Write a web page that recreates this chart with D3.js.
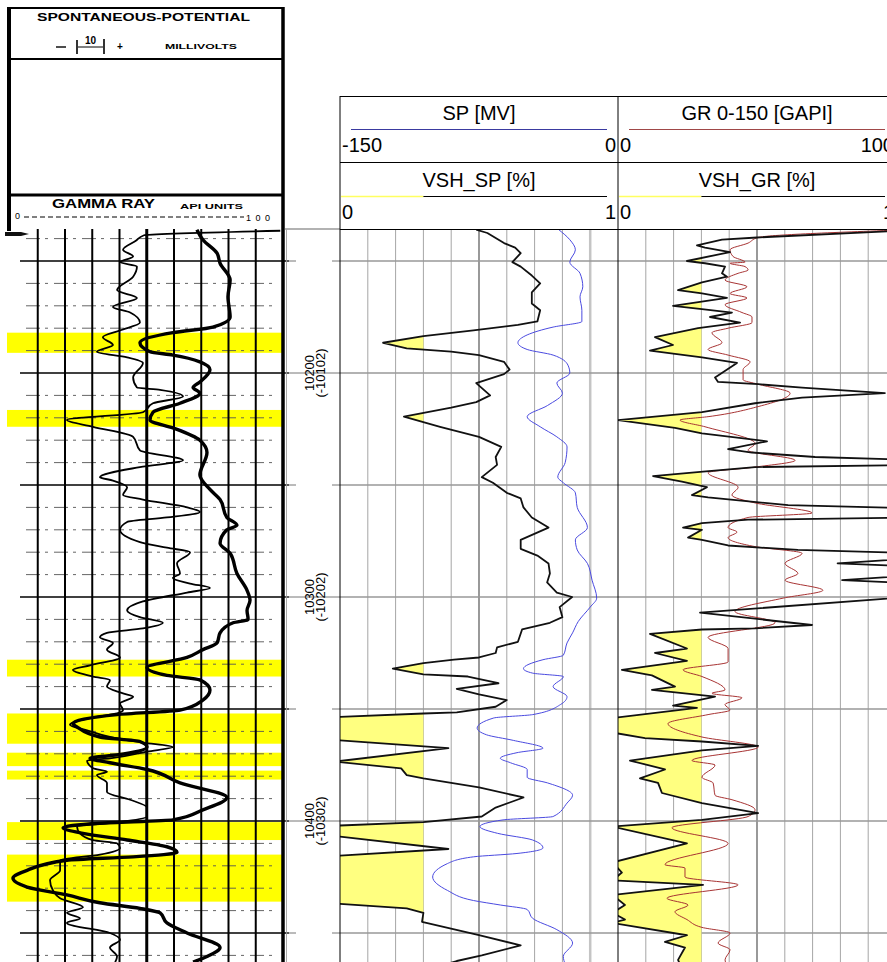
<!DOCTYPE html>
<html>
<head>
<meta charset="utf-8">
<script src="https://cdn.jsdelivr.net/npm/d3@7"></script>
<style>
  body { margin: 0; background: #fff; }
  svg { display: block; font-family: "Liberation Sans", Arial, sans-serif; }
</style>
</head>
<body>
<div id="log"></div>
<script>
// depth ticks (MD, ft) and the subsea labels printed under them
const depthLabels = [10200, 10300, 10400];
const tvdLabels = ["(-10102)", "(-10202)", "(-10302)"];
const gridDepths = [10150, 10200, 10250, 10300, 10350, 10400, 10450];

// scanned log: sand intervals shaded yellow [top, base] ft
const scanSands = [[10182, 10191], [10216.5, 10224], [10328, 10335.5], [10352, 10365.5],
  [10369.5, 10375.5], [10377.5, 10381.5], [10400.5, 10408.5], [10415, 10436]];

// scanned log curves [depth, value on the 0-100 grid]
const scanGR = [[10136,68.4],[10140.5,70.6],[10146.5,75.8],[10151,76.9],[10158.5,80.6],[10166,79.8],[10175,80.6],
  [10179.5,74.3],[10182,59.6],[10186.5,47.5],[10190.5,51.2],[10192,59.6],[10195,69.5],[10198.5,73.2],[10204,69.5],
  [10206.5,67],[10209,69.5],[10213.5,62.2],[10217.5,52.3],[10221,51.2],[10224.5,59.6],[10230,69.5],[10235.5,72.1],
  [10245.5,69.5],[10252,73.2],[10256.5,76.9],[10264.5,79.4],[10268,83.1],[10270,79.4],[10276,76.9],[10280.5,80.6],
  [10289.5,83.1],[10297,86.8],[10301.5,87.9],[10306,86.8],[10310,87.2],[10311.5,81.7],[10316,76.9],[10320.5,75.8],
  [10323.5,70.6],[10327,64.8],[10331.5,50.1],[10335,57.4],[10337,69.5],[10341.5,73.2],[10346,70.6],[10350.5,62.2],
  [10352.5,39.1],[10356.5,22.9],[10358,24.4],[10362.5,32.8],[10364.5,47.5],[10367,50.1],[10370.5,39.1],[10372,29.2],
  [10374,36.5],[10377,50.1],[10383,62.2],[10389.5,79.4],[10395,70.6],[10399.5,59.6],[10401,32.8],[10403,19.3],
  [10405.5,26.6],[10408.5,42.8],[10411.5,57.4],[10414,61.1],[10416,45],[10417.5,20.7],[10422,6.1],[10425.5,0.9],
  [10429.5,6.1],[10433,20.7],[10436.5,32.8],[10439,47.5],[10441,54.9],[10445.5,57.4],[10450,64.8],[10456.5,76.9],
  [10460.5,72.1],[10463,67]];
const scanSP = [[10136.5,99],[10138.5,49],[10141,46],[10145,41.3],[10148,45],[10150.5,40.2],[10152.5,46.4],[10157,45],
  [10163,39.1],[10166.5,46.4],[10170.5,37.6],[10173,43.9],[10177.5,47.5],[10181,40.2],[10184,33.9],[10187.5,37.6],
  [10190.5,31.7],[10193,42.8],[10195.5,48.6],[10202,45],[10206.5,46.4],[10207.5,54.9],[10210.5,63.3],[10213.5,52.3],
  [10217.5,48.6],[10221,20.7],[10224,30.3],[10228.5,45],[10234.5,47.5],[10239,63.3],[10242,47.5],[10246.5,32.8],
  [10248,37.6],[10251,42.8],[10254.5,41.3],[10256.5,48.6],[10260,64.8],[10262,69.5],[10264.5,57.4],[10266.5,42.8],
  [10270,40.2],[10275.5,47.5],[10278,57.4],[10280,65.9],[10285,61.1],[10289.5,62.2],[10291.5,59.6],[10294,65.9],
  [10296,73.2],[10298,64.8],[10302,48.6],[10306,42.8],[10309,47.5],[10311.5,55.9],[10314,48.6],[10316,35.4],
  [10318,32.8],[10320.5,37.6],[10323.5,35.4],[10327,40.2],[10330.5,29.2],[10332.5,22.9],[10335.5,30.3],[10337,36.5],
  [10340,35.4],[10343,41.3],[10344.5,45],[10347.5,40.2],[10350.5,41.3],[10352,39.1],[10353.5,31.7],[10357,21.8],
  [10359.5,28.1],[10362.5,36.5],[10365,48.6],[10367,59.6],[10369,50.1],[10372,36.5],[10373,28.1],[10376.5,30.3],
  [10378,35.4],[10379.5,31.7],[10383,35.4],[10387,35.4],[10390.5,43.9],[10394,50.1],[10398,50.1],[10400.5,40.2],
  [10402.5,24.4],[10405.5,25.5],[10408.5,30.3],[10410,39.1],[10412,40.2],[10415,32.8],[10417.5,18.2],[10422,18.2],
  [10426.5,14.5],[10431,15.6],[10434.5,18.2],[10438.5,26.6],[10441,20.7],[10443.5,25.5],[10445.5,20.7],[10450,36.5],
  [10453,40.2],[10456.5,36.5],[10460.5,39.1],[10463,38.4]];

// digital curves [depth, value]
const spMV = [[10136,-32],[10140.5,-26],[10145,-23],[10150.5,-26],[10155.5,-20.5],[10161.5,-19],[10166,-20.5],
  [10172,-19.5],[10177,-19.5],[10179.5,-35],[10183,-49],[10186.5,-54],[10189.5,-49],[10192,-35],[10196.5,-27],
  [10200,-26],[10204.5,-33],[10209,-30],[10214.5,-38],[10219.5,-49],[10224,-42],[10228.5,-33],[10233,-27.5],
  [10240,-28.5],[10246.5,-32.5],[10249,-29.5],[10253.5,-23],[10260,-22],[10269,-16.5],[10274.5,-23],[10279,-22],
  [10285,-16.5],[10292.5,-14],[10300.5,-11.5],[10304.5,-15],[10311,-21.5],[10316,-24.5],[10320.5,-27.5],[10326,-29.5],
  [10328,-40.5],[10332,-51],[10334,-46],[10335.5,-29.5],[10340,-35],[10344.5,-27.5],[10348,-31],[10352.5,-46],
  [10354,-67],[10358.5,-76],[10361.5,-71],[10364,-56.5],[10367.5,-40.5],[10369.5,-54.5],[10372,-63.5],[10374,-58],
  [10377,-49],[10380.5,-49],[10383,-38],[10388.5,-24.5],[10392,-27.5],[10398,-35],[10399.5,-62],[10402.5,-74.5],
  [10405.5,-65],[10408.5,-46],[10412,-40.5],[10414.5,-54.5],[10416,-78],[10419,-92],[10425,-100],[10431,-92],
  [10435.5,-78],[10437.5,-63.5],[10439.5,-49],[10443.5,-46],[10448.5,-33],[10454.5,-24.5],[10460.5,-29.5],[10464,-28.5]];
const vshSP = [[10136,0.49],[10137.5,0.53],[10142,0.59],[10144,0.63],[10146.5,0.65],[10150.5,0.62],[10152.5,0.65],
  [10156.5,0.69],[10160,0.72],[10164,0.69],[10169,0.69],[10172,0.72],[10177,0.71],[10178.5,0.64],[10181,0.48],
  [10183.5,0.30],[10186.5,0.155],[10189,0.24],[10190.5,0.40],[10192,0.50],[10195,0.59],[10198.5,0.61],[10200.5,0.59],
  [10204.5,0.49],[10210,0.54],[10213,0.49],[10215.5,0.40],[10219.5,0.23],[10224,0.36],[10228.5,0.50],[10233,0.58],
  [10237.5,0.56],[10241,0.565],[10246.5,0.51],[10249,0.55],[10253.5,0.60],[10256,0.65],[10260,0.66],[10264.5,0.69],
  [10269,0.75],[10274.5,0.65],[10278.5,0.65],[10281.5,0.71],[10285,0.75],[10289.5,0.755],[10293.5,0.745],[10298,0.78],
  [10300,0.835],[10304.5,0.79],[10309,0.80],[10311.5,0.755],[10314.5,0.655],[10320,0.64],[10322.5,0.565],[10325,0.56],
  [10327,0.50],[10328,0.41],[10329.5,0.30],[10332,0.19],[10334.5,0.30],[10335.5,0.46],[10338.5,0.57],[10341,0.42],
  [10343.5,0.50],[10346,0.60],[10349,0.56],[10351.5,0.42],[10352,0.30],[10353.5,0.0],[10354.5,-0.1],[10363,-0.1],
  [10364,0.0],[10367.5,0.39],[10373.5,-0.02],[10376.5,0.22],[10379.5,0.24],[10381,0.30],[10385,0.50],[10389.5,0.66],
  [10394,0.56],[10398,0.51],[10400.5,0.30],[10402,0.0],[10403,-0.1],[10406,-0.1],[10407,0.0],[10412.5,0.39],
  [10415.5,0.0],[10416.5,-0.1],[10436,-0.1],[10437,0.0],[10439,0.24],[10441,0.30],[10445,0.295],[10451,0.50],
  [10455.5,0.65],[10460,0.51],[10462.5,0.42],[10464,0.38]];
const grAPI = [[10136,105],[10139.5,50.4],[10142,46.8],[10145,40.3],[10148,41.4],[10150.5,45.7],[10151,40.3],
  [10152.5,45.7],[10154,46.8],[10155.5,43.2],[10158.5,38.5],[10161.5,46.4],[10164.5,40.3],[10166.5,46.4],[10169.5,38.5],
  [10173,44.6],[10175,48.2],[10177.5,48.2],[10180,39.6],[10182,33.8],[10186.5,37.4],[10189.5,32.4],[10192,39.6],
  [10195,47.5],[10198.5,45],[10203,45],[10205,50.4],[10209,61.9],[10215,50.4],[10219.5,32.4],[10221,22.3],[10224,31.3],
  [10231.5,49.3],[10234.5,46.8],[10239,63.7],[10242,49.3],[10244.5,32.4],[10251,43.2],[10254.5,41],[10258,49.3],
  [10262.5,69.8],[10264.5,46.8],[10269,39.6],[10271,42.8],[10273.5,39.6],[10277.5,49.3],[10280.5,66.2],[10285,60.1],
  [10289.5,64.7],[10292.5,60.1],[10297,73.7],[10300.5,59.4],[10306.5,42.1],[10311.5,56.5],[10318,32.4],[10323,39.6],
  [10329,39.6],[10332.5,23.4],[10335.5,30.2],[10341.5,38.5],[10343,33.8],[10345,44.6],[10348,38.5],[10350.5,40.3],
  [10352.5,32.4],[10356.5,18],[10362.5,30.2],[10367,50.4],[10373,26.6],[10375,34.9],[10380.5,30.2],[10383,34.2],
  [10388.5,34.9],[10390.5,41],[10395,49.3],[10398,46.8],[10403,19.4],[10410,39.6],[10419.5,16.9],[10421,24.1],
  [10425,24.1],[10428.5,43.2],[10434.5,17.6],[10437.5,25.2],[10440.5,20.5],[10444,24.8],[10447.5,30.2],[10450,40.3],
  [10454.5,36],[10457.5,40.3],[10462,38.5],[10464,39]];
const vshGR = [[10136,1.1],[10139.5,0.50],[10140.5,0.374],[10143,0.284],[10144,0.313],[10146,0.403],[10150,0.248],
  [10151,0.313],[10152.5,0.385],[10155.5,0.374],[10157,0.392],[10159.5,0.302],[10163,0.216],[10164.5,0.302],
  [10166.5,0.392],[10170,0.198],[10171.5,0.302],[10173,0.41],[10175,0.331],[10177.5,0.439],[10180,0.288],[10184,0.133],
  [10187.5,0.198],[10190,0.115],[10193,0.302],[10195.5,0.428],[10202,0.349],[10204,0.36],[10205,0.504],[10206.5,0.662],
  [10209,0.96],[10211,0.662],[10213.5,0.493],[10217.5,0.302],[10221,0.0],[10224.5,0.205],[10227,0.302],[10230.5,0.536],
  [10234,0.396],[10235.5,0.482],[10237.5,0.709],[10239,1.1],[10241,1.1],[10242,0.493],[10244,0.306],[10246,0.126],
  [10248.5,0.23],[10251,0.32],[10254.5,0.266],[10255.5,0.324],[10259,0.612],[10260.5,1.1],[10264.5,1.1],[10265.5,0.468],
  [10267,0.302],[10269,0.234],[10270,0.302],[10273.5,0.252],[10274.5,0.302],[10277,0.396],[10279,0.647],[10280.5,1.1],
  [10282.5,1.1],[10285,0.79],[10286.5,1.1],[10290,1.1],[10292.5,0.806],[10294,1.1],[10299.5,1.1],[10307,0.295],
  [10312.5,0.698],[10314,0.493],[10314.5,0.302],[10316.5,0.115],[10323,0.248],[10325,0.133],[10328.5,0.248],
  [10332.5,0.014],[10335,0.122],[10340,0.205],[10341.5,0.122],[10344.5,0.349],[10348.5,0.198],[10349.5,0.284],
  [10354,-0.02],[10360.5,-0.02],[10363,0.097],[10364.5,0.302],[10366.5,0.504],[10368.5,0.302],[10373,0.043],
  [10377,0.169],[10381,0.079],[10383,0.144],[10387.5,0.158],[10392,0.302],[10396.5,0.504],[10399.5,0.302],
  [10402.5,-0.02],[10410,0.248],[10418.5,-0.02],[10423,0.014],[10426.5,-0.02],[10428.5,0.306],[10433,-0.02],
  [10437.5,0.025],[10441,-0.02],[10444,0.025],[10445.5,-0.02],[10451,0.248],[10454,0.169],[10456.5,0.241],
  [10462,0.216],[10464,0.223]];
const vshCutoff = 0.3;

const W = 887, H = 962;
const logTop = 229;
const TW = 278;

const svg = d3.select("#log").append("svg").attr("width", W).attr("height", H);
const y = d3.scaleLinear().domain([10200, 10300]).range([373, 597]);
const defs = svg.append("defs");

//---------------- scanned log on the left ----------------
const xScan = d3.scaleLinear().domain([0, 100]).range([10.5, 283]);
const scan = svg.append("g");

scan.selectAll("rect.sand").data(scanSands).join("rect")
  .attr("x", 7).attr("width", 277)
  .attr("y", d => y(d[0])).attr("height", d => y(d[1]) - y(d[0]))
  .attr("fill", "#ffff00");

// minor depth lines every 10 ft
const minor = d3.range(10140, 10470, 10).filter(d => d % 50 != 0);
scan.selectAll("line.minor").data(minor).join("line")
  .attr("x1", 26).attr("x2", 278)
  .attr("y1", d => y(d)).attr("y2", d => y(d))
  .attr("stroke", "#555").attr("stroke-width", 0.9).attr("stroke-dasharray", "14,5,3,6");
scan.selectAll("line.major").data(gridDepths).join("line")
  .attr("x1", 20).attr("x2", 289)
  .attr("y1", d => y(d)).attr("y2", d => y(d))
  .attr("stroke", "#000").attr("stroke-width", 1.5);

// vertical divisions
scan.selectAll("line.vdiv").data(d3.range(10, 100, 10)).join("line")
  .attr("x1", d => xScan(d)).attr("x2", d => xScan(d))
  .attr("y1", logTop).attr("y2", H)
  .attr("stroke", "#000").attr("stroke-width", d => d == 50 ? 3 : 2);

const scanLine = d3.line().curve(d3.curveMonotoneY).x(d => xScan(d[1])).y(d => y(d[0]));
scan.append("path").datum(scanSP).attr("d", scanLine)
  .attr("fill", "none").attr("stroke", "#000").attr("stroke-width", 1.8).attr("stroke-linejoin", "round");
scan.append("path").datum(scanGR).attr("d", scanLine)
  .attr("fill", "none").attr("stroke", "#000").attr("stroke-width", 3.4).attr("stroke-linejoin", "round");

scan.append("path").attr("d", "M5,232 H21 L29,234 L21,236 H5 Z").attr("fill", "#111");

// scanned header box
const sh = svg.append("g").attr("stroke", "#000").attr("fill", "none");
sh.append("line").attr("x1", 9).attr("x2", 284).attr("y1", 8).attr("y2", 8).attr("stroke-width", 2);
sh.append("line").attr("x1", 9).attr("x2", 9).attr("y1", 7).attr("y2", 231).attr("stroke-width", 4);
sh.append("line").attr("x1", 283).attr("x2", 283).attr("y1", 7).attr("y2", H).attr("stroke-width", 3.5);
sh.append("line").attr("x1", 9).attr("x2", 283).attr("y1", 59).attr("y2", 59).attr("stroke-width", 2);
sh.append("line").attr("x1", 9).attr("x2", 283).attr("y1", 195).attr("y2", 195).attr("stroke-width", 3);
sh.append("line").attr("x1", 56).attr("x2", 66).attr("y1", 47).attr("y2", 47).attr("stroke-width", 1.4);
sh.append("line").attr("x1", 77).attr("x2", 77).attr("y1", 40).attr("y2", 54).attr("stroke-width", 1.6);
sh.append("line").attr("x1", 104).attr("x2", 104).attr("y1", 39).attr("y2", 54).attr("stroke-width", 1.6);
sh.append("line").attr("x1", 78).attr("x2", 103).attr("y1", 47).attr("y2", 47).attr("stroke-width", 1);
sh.append("line").attr("x1", 24).attr("x2", 244).attr("y1", 217).attr("y2", 217)
  .attr("stroke-width", 1).attr("stroke-dasharray", "5,3");

const shText = svg.append("g").attr("fill", "#000").attr("font-weight", "bold");
shText.append("text").attr("x", 37).attr("y", 21).attr("font-size", 11)
  .attr("textLength", 213).attr("lengthAdjust", "spacingAndGlyphs").text("SPONTANEOUS-POTENTIAL");
shText.append("text").attr("x", 90.5).attr("y", 44).attr("font-size", 10).attr("text-anchor", "middle").text("10");
shText.append("text").attr("x", 120).attr("y", 50).attr("font-size", 10).attr("text-anchor", "middle").text("+");
shText.append("text").attr("x", 165).attr("y", 49).attr("font-size", 7.5)
  .attr("textLength", 72).attr("lengthAdjust", "spacingAndGlyphs").text("MILLIVOLTS");
shText.append("text").attr("x", 52).attr("y", 208).attr("font-size", 12)
  .attr("textLength", 103).attr("lengthAdjust", "spacingAndGlyphs").text("GAMMA RAY");
shText.append("text").attr("x", 180).attr("y", 209).attr("font-size", 7.5)
  .attr("textLength", 63).attr("lengthAdjust", "spacingAndGlyphs").text("API UNITS");
shText.append("text").attr("x", 15).attr("y", 219).attr("font-size", 9).attr("font-weight", "normal").text("0");
shText.append("text").attr("x", 246).attr("y", 221).attr("font-size", 9).attr("font-weight", "normal")
  .attr("textLength", 24).text("100");

//---------------- depth track ----------------
const dt = svg.append("g");
dt.append("line").attr("x1", 285).attr("x2", 340).attr("y1", logTop).attr("y2", logTop)
  .attr("stroke", "#999").attr("stroke-width", 1.5);
dt.append("line").attr("x1", 286.5).attr("x2", 286.5).attr("y1", logTop).attr("y2", H)
  .attr("stroke", "#aaa").attr("stroke-width", 1);
gridDepths.forEach(d => {
  if (depthLabels.includes(d)) {
    dt.append("line").attr("x1", 285).attr("x2", 340).attr("y1", y(d)).attr("y2", y(d))
      .attr("stroke", "#777").attr("stroke-width", 1);
  } else {
    dt.append("line").attr("x1", 286).attr("x2", 296).attr("y1", y(d)).attr("y2", y(d))
      .attr("stroke", "#777").attr("stroke-width", 1);
    dt.append("line").attr("x1", 332).attr("x2", 340).attr("y1", y(d)).attr("y2", y(d))
      .attr("stroke", "#777").attr("stroke-width", 1);
  }
});
depthLabels.forEach((d, i) => {
  dt.append("text").attr("transform", `translate(313.5,${y(d)}) rotate(-90)`)
    .attr("text-anchor", "middle").attr("font-size", 13).text(d);
  dt.append("text").attr("transform", `translate(324.5,${y(d)}) rotate(-90)`)
    .attr("text-anchor", "middle").attr("font-size", 13).text(tvdLabels[i]);
});

//---------------- digital tracks ----------------
const tracks = [
  { x0: 340, title: "SP [MV]", titleColor: "#3a3aa0", lo: "-150", hi: "0", rawDomain: [-150, 0],
    raw: spMV, rawColor: "#4a4ae0", vshTitle: "VSH_SP [%]", vsh: vshSP },
  { x0: 618, title: "GR 0-150 [GAPI]", titleColor: "#a04848", lo: "0", hi: "100", rawDomain: [0, 100],
    raw: grAPI, rawColor: "#a83434", vshTitle: "VSH_GR [%]", vsh: vshGR }
];

tracks.forEach((t, k) => {
  const xv = d3.scaleLinear().domain([0, 1]).range([t.x0, t.x0 + TW]);
  const xr = d3.scaleLinear().domain(t.rawDomain).range([t.x0, t.x0 + TW]);
  const g = svg.append("g");

  defs.append("clipPath").attr("id", "trk" + k).append("rect")
    .attr("x", t.x0).attr("y", logTop).attr("width", TW).attr("height", H - logTop);
  defs.append("clipPath").attr("id", "sand" + k).append("rect")
    .attr("x", t.x0).attr("y", logTop).attr("width", xv(vshCutoff) - t.x0).attr("height", H - logTop);

  // grid
  g.selectAll("line.v").data(d3.range(1, 10)).join("line")
    .attr("x1", d => xv(d / 10)).attr("x2", d => xv(d / 10))
    .attr("y1", logTop).attr("y2", H)
    .attr("stroke", d => d == 5 ? "#808080" : (d == 9 && k == 0 ? "#c4c4c4" : "#a6a6a6"))
    .attr("stroke-width", d => d == 5 ? 1.6 : (d == 9 && k == 0 ? 2.5 : 1));
  g.selectAll("line.h").data(gridDepths).join("line")
    .attr("x1", t.x0).attr("x2", t.x0 + TW)
    .attr("y1", d => y(d)).attr("y2", d => y(d))
    .attr("stroke", "#999").attr("stroke-width", 1.3);

  // sand shading between the vsh curve and the cutoff
  const sandArea = d3.area().y(d => y(d[0])).x0(d => xv(d[1])).x1(t.x0 + TW * 2);
  g.append("path").datum(t.vsh).attr("d", sandArea)
    .attr("fill", "#ffff80").attr("clip-path", `url(#sand${k})`);

  const curves = g.append("g").attr("clip-path", `url(#trk${k})`);
  curves.append("path").datum(t.raw)
    .attr("d", d3.line().curve(d3.curveMonotoneY).x(d => xr(d[1])).y(d => y(d[0])))
    .attr("fill", "none").attr("stroke", t.rawColor).attr("stroke-width", 1);
  curves.append("path").datum(t.vsh)
    .attr("d", d3.line().x(d => xv(d[1])).y(d => y(d[0])))
    .attr("fill", "none").attr("stroke", "#111").attr("stroke-width", 1.8).attr("stroke-linejoin", "round");

  // borders
  g.append("line").attr("x1", t.x0).attr("x2", t.x0).attr("y1", 96).attr("y2", H)
    .attr("stroke", "#000").attr("stroke-width", 1);

  // header
  const hd = svg.append("g").attr("font-size", 20).attr("fill", "#000");
  const mid = t.x0 + TW / 2;
  hd.append("text").attr("x", mid).attr("y", 120).attr("text-anchor", "middle").text(t.title);
  hd.append("line").attr("x1", t.x0 + 11).attr("x2", t.x0 + 267).attr("y1", 129.5).attr("y2", 129.5)
    .attr("stroke", t.titleColor).attr("stroke-width", 1);
  hd.append("text").attr("x", t.x0 + 2).attr("y", 152).text(t.lo);
  hd.append("text").attr("x", t.x0 + TW - 2).attr("y", 152).attr("text-anchor", "end").text(t.hi);
  hd.append("text").attr("x", mid).attr("y", 187).attr("text-anchor", "middle").text(t.vshTitle);
  hd.append("line").attr("x1", t.x0 + 1).attr("x2", xv(vshCutoff)).attr("y1", 196.5).attr("y2", 196.5)
    .attr("stroke", "#ffff60").attr("stroke-width", 1.5);
  hd.append("line").attr("x1", xv(vshCutoff)).attr("x2", t.x0 + 267).attr("y1", 196.5).attr("y2", 196.5)
    .attr("stroke", "#000").attr("stroke-width", 1);
  hd.append("text").attr("x", t.x0 + 2).attr("y", 219).text("0");
  hd.append("text").attr("x", t.x0 + TW - 2).attr("y", 219).attr("text-anchor", "end").text("1");
});

// header frame lines
const frame = svg.append("g").attr("stroke", "#000").attr("stroke-width", 1);
[96.5, 162.5, 229.5].forEach(v => {
  frame.append("line").attr("x1", 340).attr("x2", W).attr("y1", v).attr("y2", v);
});
</script>
</body>
</html>
